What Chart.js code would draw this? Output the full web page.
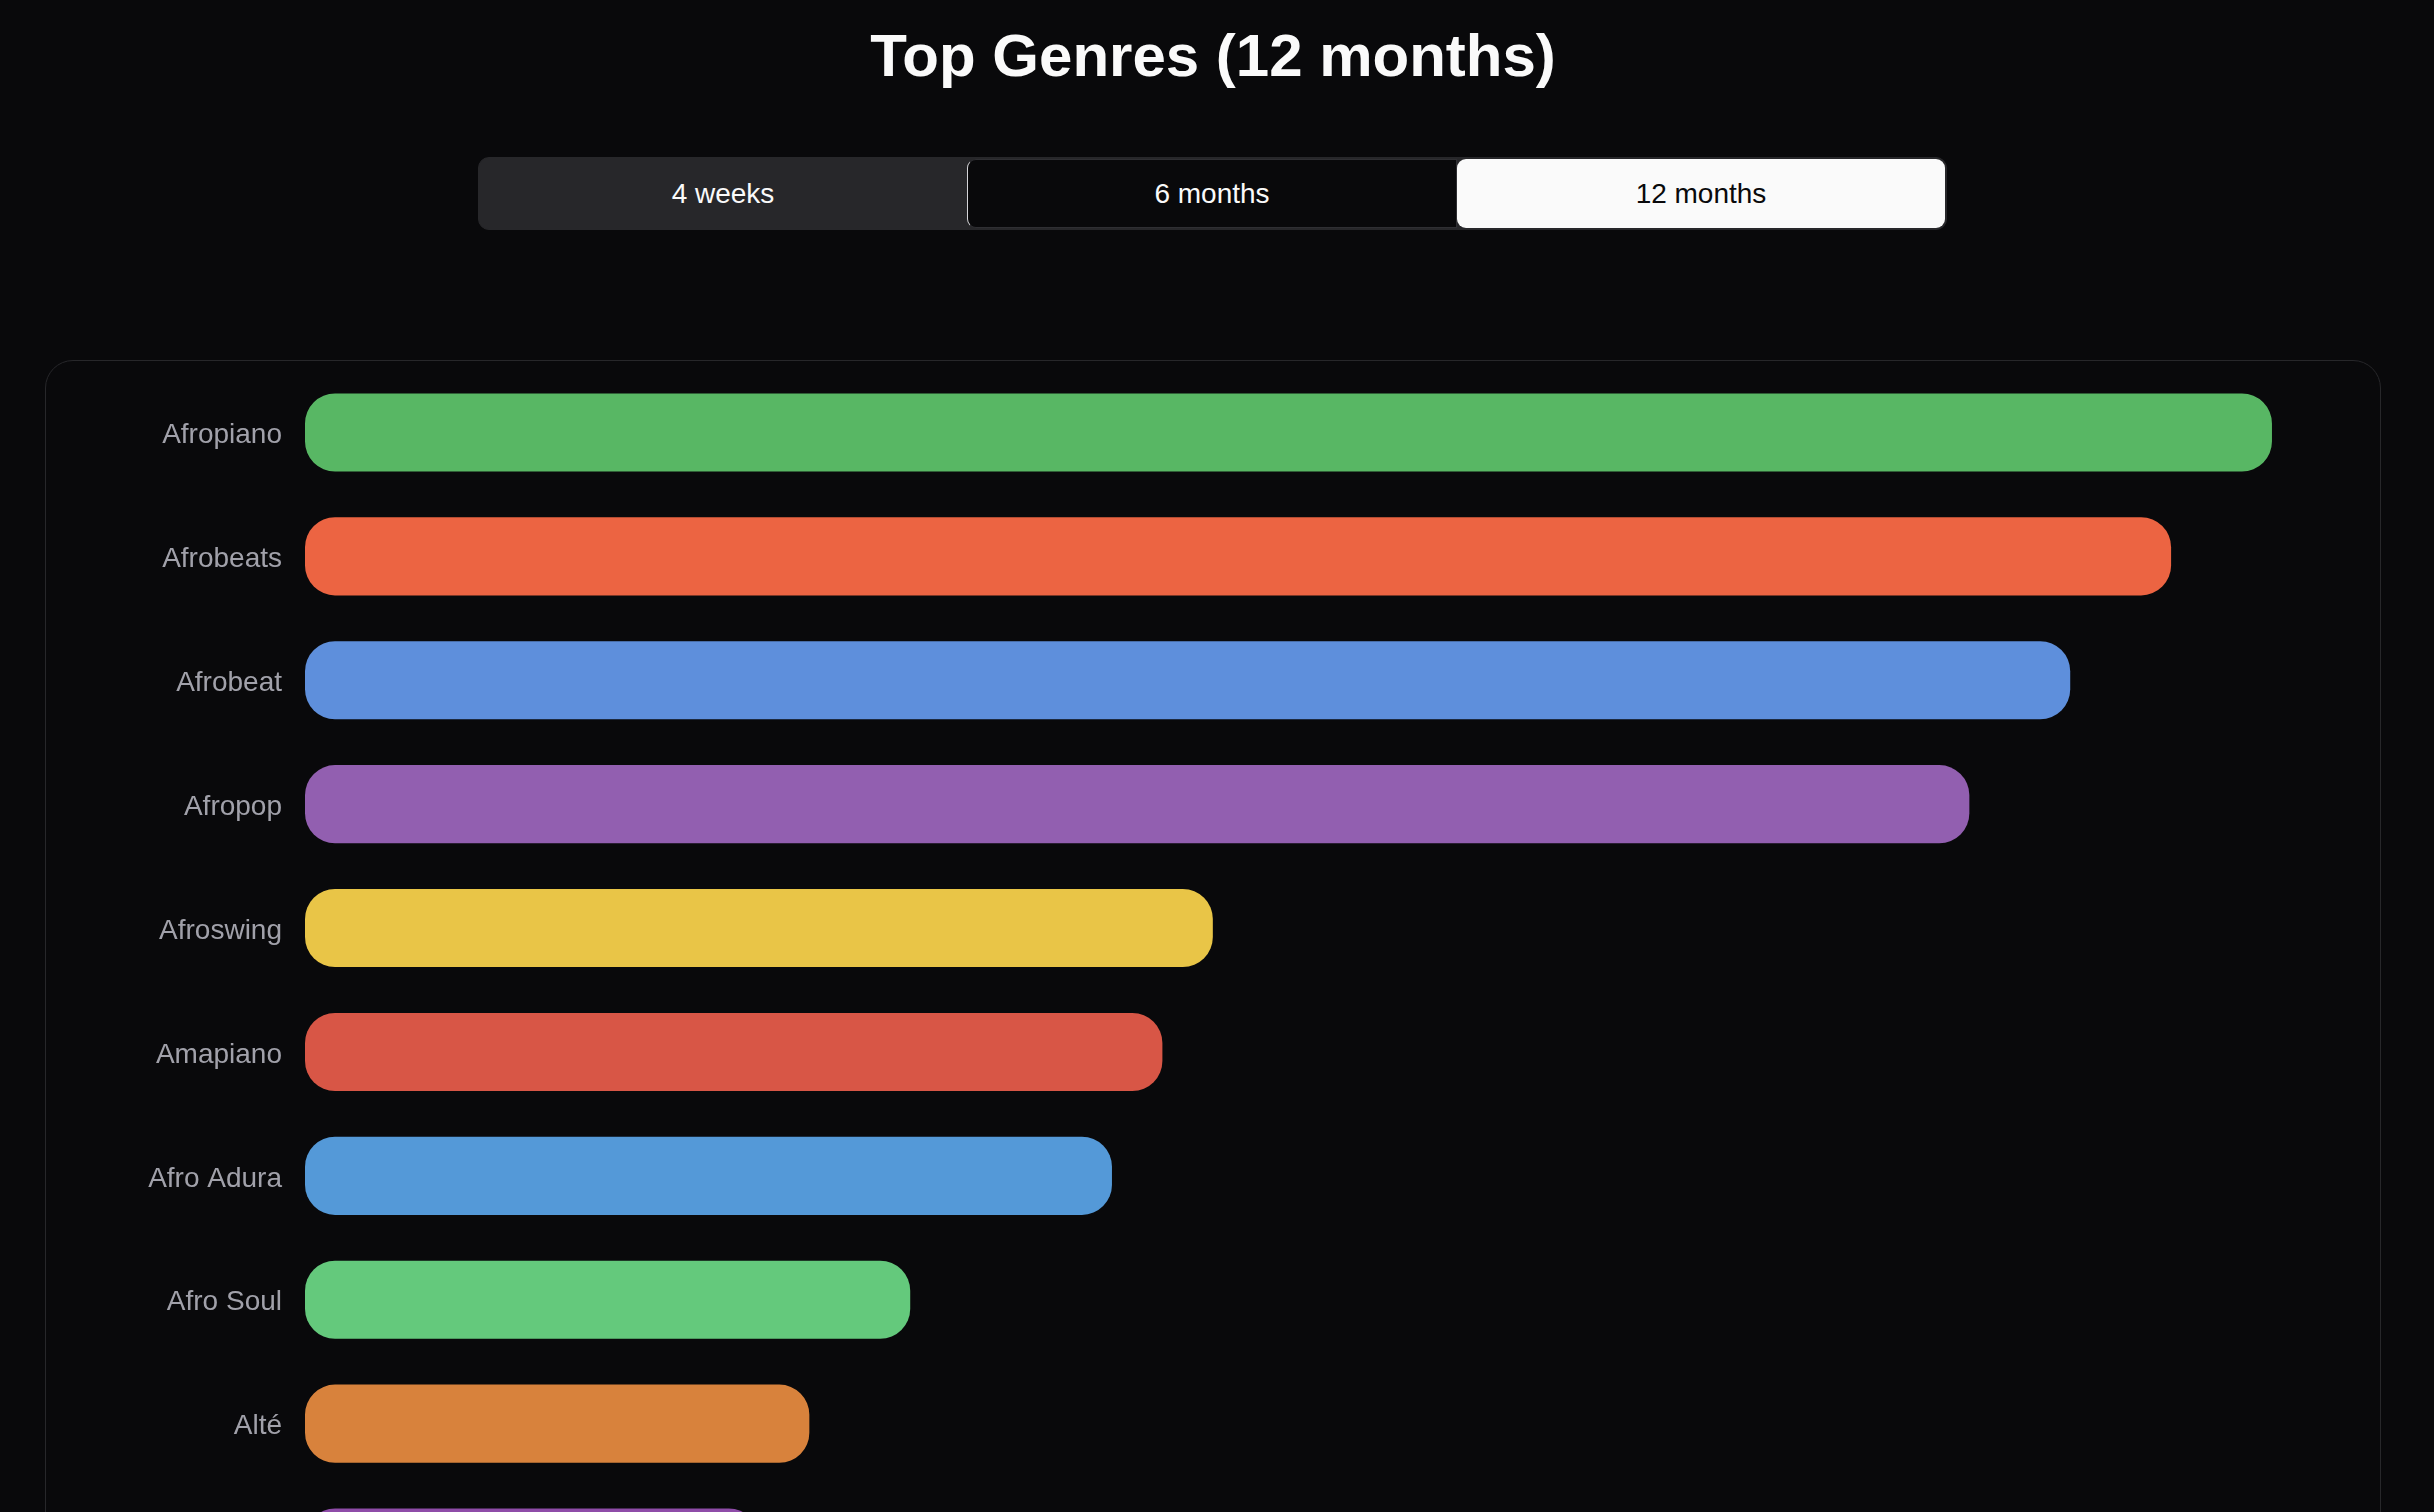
<!DOCTYPE html>
<html>
<head>
<meta charset="utf-8">
<script src="https://cdn.jsdelivr.net/npm/chart.js@4/dist/chart.umd.min.js"></script>
<style>
  html, body { margin: 0; padding: 0; background: #09090b; overflow: hidden; width: 2434px; height: 1512px; }
  body { position: relative; font-family: "Liberation Sans", Arial, Helvetica, sans-serif; }
  #title { position: absolute; left: -4px; top: 21px; width: 2434px; text-align: center; color: #fafafa;
           font-weight: bold; font-size: 60px; line-height: 70px; }
  #toggle { position: absolute; left: 478px; top: 157px; width: 1469px; height: 73px; box-sizing: border-box;
            border: 1px solid #27272a; border-radius: 11px; background: #27272a; display: flex; }
  #toggle div { flex: 1; display: flex; align-items: center; justify-content: center; font-size: 28px; color: #fafafa; box-sizing: border-box; }
  #toggle .b1 { background: #27272a; border-radius: 10px 0 0 10px; }
  #toggle .b2 { background: #09090b; border: 1px solid #2f2f33; border-left: 1.5px solid #d4d4d8; border-radius: 9px 0 0 9px; margin: 1px 0; }
  #toggle .b3 { background: #fafafa; color: #09090b; border-radius: 9px; margin: 1px 1px 1px 0; }
  #card { position: absolute; left: 45px; top: 360px; width: 2336px; height: 1290px; box-sizing: border-box;
          border: 1.5px solid #27272a; border-radius: 28px; background: #09090b; }
  #wrap { position: absolute; left: 1px; top: 1px; width: 2334px; height: 1270px; }
</style>
</head>
<body>
<div id="title">Top Genres (12 months)</div>
<div id="toggle"><div class="b1">4 weeks</div><div class="b2">6 months</div><div class="b3">12 months</div></div>
<div id="card"><div id="wrap"><canvas id="c"></canvas></div></div>
<script>
const genres = ["Afropiano", "Afrobeats", "Afrobeat", "Afropop", "Afroswing", "Amapiano", "Afro Adura", "Afro Soul", "Alté", "Afro-Fusion"];
const counts = [39, 37, 35, 33, 18, 17, 16, 12, 10, 9];
const barColors = ["#58b764", "#ec6442", "#5e8fdc", "#925fb0", "#e9c547", "#d85646", "#5499d8", "#64c97c", "#d8823c", "#8e4ca8"];

new Chart(document.getElementById("c"), {
  type: "bar",
  data: {
    labels: genres,
    datasets: [{
      data: counts,
      backgroundColor: barColors,
      hoverBackgroundColor: barColors,
      borderWidth: 0,
      borderRadius: 30,
      borderSkipped: false,
      categoryPercentage: 0.7,
      barPercentage: 0.9
    }]
  },
  options: {
    indexAxis: "y",
    responsive: true,
    maintainAspectRatio: false,
    animation: false,
    events: [],
    layout: { padding: { left: 101, right: 58.6, top: 8.5, bottom: 22.5 } },
    plugins: { legend: { display: false }, tooltip: { enabled: false }, title: { display: false } },
    scales: {
      x: { display: false, min: 0, max: 40 },
      y: {
        grid: { display: false, drawTicks: false },
        border: { display: false },
        ticks: { color: "#a1a1aa", padding: 23, labelOffset: 3, font: { family: "'Liberation Sans', Arial, sans-serif", size: 28 } },
        afterFit(scale) { scale.width = 157; scale.paddingTop = 0; scale.paddingBottom = 0; }
      }
    }
  }
});
</script>
</body>
</html>
